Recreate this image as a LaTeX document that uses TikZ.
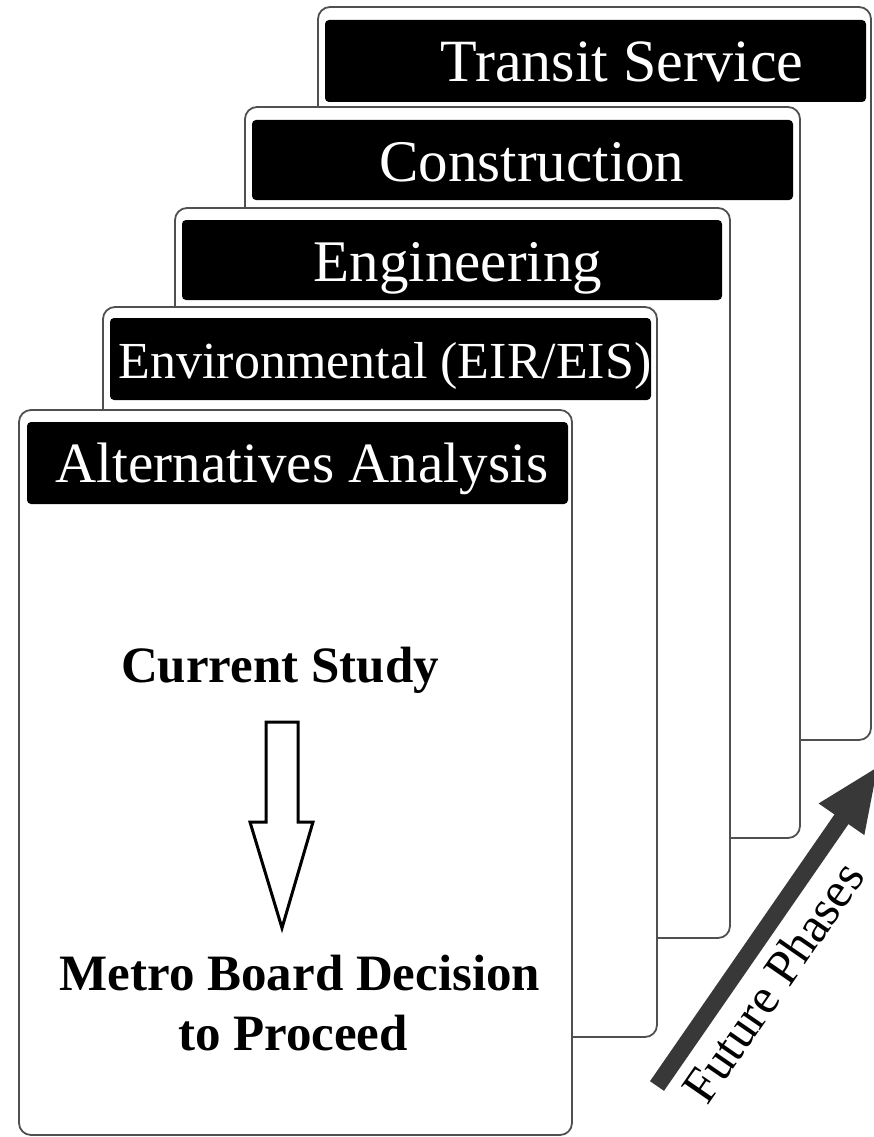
\documentclass[tikz,border=0pt]{standalone}
\usepackage{fontspec}
\setmainfont{Liberation Serif}
\usetikzlibrary{arrows.meta}
\definecolor{cardline}{HTML}{505050}
\definecolor{phasegray}{HTML}{383838}
\tikzset{
  card/.style={draw=cardline, line width=1.8pt, fill=white, rounded corners=12pt},
  header/.style={fill=black, rounded corners=4pt},
  headtext/.style={text=white, anchor=base, inner sep=0pt},
  bodytext/.style={anchor=base, inner sep=0pt, font=\bfseries\fontsize{51}{60}\selectfont},
  blockarrow/.style={draw=black, line width=3pt, fill=white, line join=miter},
  phasearrow/.style={draw=phasegray, line width=17pt, -{Triangle[width=50pt,length=66pt]}}
}
\begin{document}
\begin{tikzpicture}[x=1pt,y=-1pt]
\useasboundingbox (0,0) rectangle (874,1137);
\clip (0,0) rectangle (874,1137);
% card 5: Transit Service
\draw[card] (318,7) rectangle (871,740);
\fill[header] (325,20) rectangle (866,102);
\node[headtext, font=\fontsize{60}{62}\selectfont] (t5) at (622,82) {Transit Service};
% card 4: Construction
\draw[card] (245,107) rectangle (800,838);
\fill[header] (252,120) rectangle (793,200);
\node[headtext, font=\fontsize{59}{62}\selectfont] (t4) at (532,181) {Construction};
% card 3: Engineering
\draw[card] (175,208) rectangle (730,938);
\fill[header] (182,220) rectangle (722,300);
\node[headtext, font=\fontsize{59}{62}\selectfont] (t3) at (458,281) {Engineering};
% card 2: Environmental
\draw[card] (103,307) rectangle (657,1037);
\fill[header] (110,318) rectangle (651,400);
\node[headtext, font=\fontsize{52}{56}\selectfont] (t2) at (385,378) {Environmental (EIR/EIS)};
% card 1: Alternatives Analysis
\draw[card] (19,410) rectangle (572,1135);
\fill[header] (27,422) rectangle (568,504);
\node[headtext, font=\fontsize{57}{60}\selectfont] (t1) at (302,482) {Alternatives Analysis};
% body
\node[bodytext] (current) at (280,682) {Current Study};
\draw[blockarrow] (266,722) -- (298,722) -- (298,822) -- (313,822) -- (282,928) -- (250,822) -- (266,822) -- cycle;
\node[bodytext] (metro) at (300,990) {Metro Board Decision};
\node[bodytext] (proceed) at (293,1050) {to Proceed};
% future phases arrow
\coordinate (ptail) at (657,1086);
\coordinate (ptip) at (879,765);
\draw[phasearrow] (ptail) -- (ptip);
\node[rotate=55.4, inner sep=0pt, font=\fontsize{50}{54}\selectfont] (phases) at (773,982) {Future Phases};
\end{tikzpicture}
\end{document}
